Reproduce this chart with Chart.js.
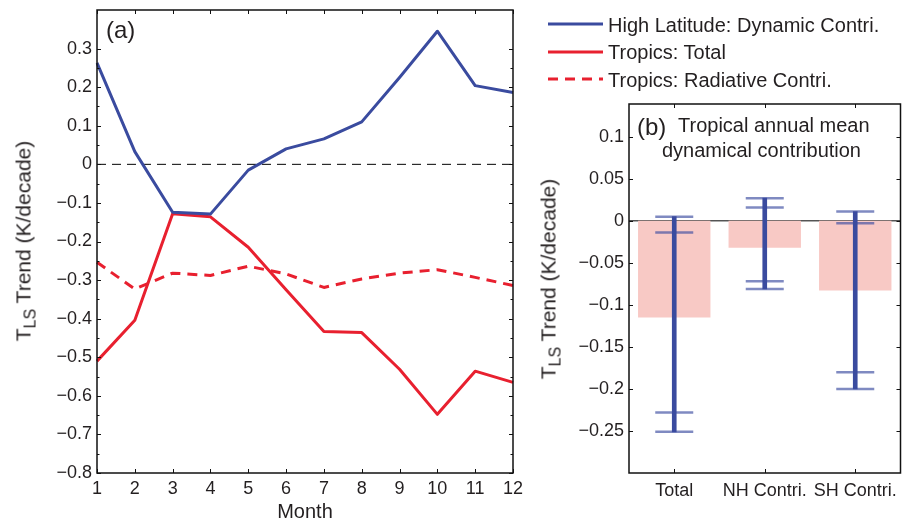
<!DOCTYPE html>
<html>
<head>
<meta charset="utf-8">
<script src="https://cdn.jsdelivr.net/npm/chart.js@4.4.0/dist/chart.umd.min.js"></script>
<style>
body { margin: 0; background: #fff; }
#wrap { position: relative; width: 922px; height: 525px; overflow: hidden;
        font-family: 'Liberation Sans', Arial, Helvetica, sans-serif; color: #231f20; }
canvas { position: absolute; top: 0; }
.txt { position: absolute; white-space: nowrap; line-height: 1; }
.ytitle { position: absolute; white-space: nowrap; font-size: 21px; line-height: 1;
          transform: translate(-50%, -50%) rotate(-90deg); }
.ytitle span { font-size: 16px; position: relative; top: 5px; }
</style>
</head>
<body>
<div id="wrap">
  <canvas id="chartA" width="530" height="525" style="left:0"></canvas>
  <canvas id="chartB" width="392" height="525" style="left:530px"></canvas>
  <div class="ytitle" style="left:23px;top:241px">T<span>LS</span> Trend (K/decade)</div>
  <div class="ytitle" style="left:548px;top:279px">T<span>LS</span> Trend (K/decade)</div>
  <div class="txt" style="left:106px;top:18px;font-size:24px">(a)</div>
  <div class="txt" style="left:637px;top:115px;font-size:24px">(b)</div>
  <div class="txt" style="left:678px;top:115px;font-size:20px">Tropical annual mean</div>
  <div class="txt" style="left:662px;top:140px;font-size:20px">dynamical contribution</div>
  <div id="legend"></div>
</div>
<script>
// panel (a): monthly trends
var months = ['1', '2', '3', '4', '5', '6', '7', '8', '9', '10', '11', '12'];
var highLatDynamic = [0.263, 0.033, -0.124, -0.129, -0.015, 0.040, 0.066, 0.110, 0.225, 0.345, 0.204, 0.186];
var tropicsTotal = [-0.510, -0.404, -0.128, -0.136, -0.215, -0.325, -0.433, -0.436, -0.531, -0.648, -0.536, -0.565];
var tropicsRadiative = [-0.254, -0.323, -0.282, -0.288, -0.264, -0.284, -0.319, -0.297, -0.282, -0.273, -0.293, -0.314];

// panel (b): tropical annual mean dynamical contribution
var contribLabels = ['Total', 'NH Contri.', 'SH Contri.'];
var contribMean = [-0.115, -0.032, -0.083];
var rangeHigh = [0.005, 0.027, 0.011];
var rangeLow = [-0.251, -0.081, -0.200];
var innerHigh = [-0.014, 0.016, -0.003];
var innerLow = [-0.228, -0.072, -0.180];

var BLUE = '#3a4b9f';
var RED = '#e8202f';
var PINK = '#f8c9c5';
var CAP = 'rgba(58,75,159,0.65)';

Chart.defaults.font.family = "'Liberation Sans', Arial, Helvetica, sans-serif";
Chart.defaults.color = '#231f20';

function fmt(v) {
    return String(Math.round(v * 100) / 100).replace('-', '\u2212');
}

// fixed axis sizes, no extra room for overhanging labels
function fixSize(w, h) {
    return function(s) {
        if (w) s.width = w;
        if (h) s.height = h;
        s.paddingTop = 0; s.paddingBottom = 0;
        s.paddingLeft = 0; s.paddingRight = 0;
    };
}

// box round the plot, inward ticks, zero line
var frame = {
    id: 'frame',
    beforeDatasetsDraw: function(chart, args, opts) {
        var ctx = chart.ctx, a = chart.chartArea;
        var py = chart.scales.y.getPixelForValue(0);
        ctx.save();
        ctx.strokeStyle = '#000';
        ctx.lineWidth = 1;
        ctx.setLineDash(opts.zeroDash || []);
        ctx.beginPath();
        ctx.moveTo(a.left, py);
        ctx.lineTo(a.right, py);
        ctx.stroke();
        ctx.restore();
    },
    afterDatasetsDraw: function(chart, args, opts) {
        var ctx = chart.ctx, a = chart.chartArea;
        var x = chart.scales.x, y = chart.scales.y;
        ctx.save();
        ctx.strokeStyle = '#111';
        ctx.lineWidth = 1;
        ctx.beginPath();
        y.ticks.forEach(function(t, i) {
            var p = Math.round(y.getPixelForValue(t.value)) + 0.5;
            ctx.moveTo(a.left, p); ctx.lineTo(a.left + 4, p);
            ctx.moveTo(a.right, p); ctx.lineTo(a.right - 4, p);
            if (opts.minor && i < y.ticks.length - 1) {
                var m = Math.round(y.getPixelForValue((t.value + y.ticks[i + 1].value) / 2)) + 0.5;
                ctx.moveTo(a.left, m); ctx.lineTo(a.left + 2.5, m);
                ctx.moveTo(a.right, m); ctx.lineTo(a.right - 2.5, m);
            }
        });
        x.ticks.forEach(function(t, i) {
            var p = Math.round(x.getPixelForTick(i)) + 0.5;
            ctx.moveTo(p, a.top); ctx.lineTo(p, a.top + 4);
            ctx.moveTo(p, a.bottom); ctx.lineTo(p, a.bottom - 4);
        });
        ctx.stroke();
        ctx.lineWidth = 1.5;
        ctx.strokeRect(a.left, a.top, a.right - a.left, a.bottom - a.top);
        ctx.restore();
    }
};

var chartA = new Chart(document.getElementById('chartA'), {
    type: 'line',
    data: {
        labels: months,
        datasets: [
            { label: 'High Latitude: Dynamic Contri.', data: highLatDynamic, borderColor: BLUE, borderWidth: 3 },
            { label: 'Tropics: Total', data: tropicsTotal, borderColor: RED, borderWidth: 3 },
            { label: 'Tropics: Radiative Contri.', data: tropicsRadiative, borderColor: RED, borderWidth: 3, borderDash: [10, 7] }
        ]
    },
    options: {
        responsive: false,
        animation: false,
        events: [],
        elements: { point: { radius: 0 }, line: { tension: 0, borderJoinStyle: 'round' } },
        layout: { padding: { left: 0, top: 10, right: 17, bottom: 0 } },
        plugins: {
            legend: { display: false },
            tooltip: { enabled: false },
            frame: { zeroDash: [9, 6], minor: true }
        },
        scales: {
            x: {
                grid: { display: false, drawTicks: false },
                border: { display: false },
                ticks: { padding: 5, font: { size: 18 }, maxRotation: 0, autoSkip: false },
                title: { display: true, text: 'Month', font: { size: 20 }, padding: { top: 0, bottom: 1 } },
                afterFit: fixSize(0, 52)
            },
            y: {
                min: -0.8,
                max: 0.4,
                grid: { display: false, drawTicks: false },
                border: { display: false },
                ticks: {
                    stepSize: 0.1, padding: 5, font: { size: 18 },
                    callback: function(v) { return v > 0.35 ? null : fmt(v); }
                },
                afterFit: fixSize(97, 0)
            }
        }
    },
    plugins: [frame]
});

var capStyle = {
    type: 'line', showLine: false, pointStyle: 'line', pointRadius: 19,
    pointBorderWidth: 2.5, pointBorderColor: CAP, borderColor: CAP
};

var chartB = new Chart(document.getElementById('chartB'), {
    type: 'bar',
    data: {
        labels: contribLabels,
        datasets: [
            Object.assign({ data: rangeHigh }, capStyle),
            Object.assign({ data: rangeLow }, capStyle),
            Object.assign({ data: innerHigh }, capStyle),
            Object.assign({ data: innerLow }, capStyle),
            {
                type: 'bar', grouped: false, barThickness: 4, backgroundColor: BLUE,
                data: contribLabels.map(function(c, i) { return [rangeLow[i], rangeHigh[i]]; })
            },
            {
                type: 'bar', grouped: false, barPercentage: 0.8, categoryPercentage: 1,
                backgroundColor: PINK, data: contribMean
            }
        ]
    },
    options: {
        responsive: false,
        animation: false,
        events: [],
        layout: { padding: { left: 0, top: 104, right: 3, bottom: 0 } },
        plugins: {
            legend: { display: false },
            tooltip: { enabled: false },
            frame: { zeroDash: [], minor: false }
        },
        scales: {
            x: {
                grid: { display: false, drawTicks: false },
                border: { display: false },
                ticks: { padding: 7, font: { size: 18 }, maxRotation: 0, autoSkip: false },
                afterFit: fixSize(0, 52)
            },
            y: {
                min: -0.3,
                max: 0.139,
                grid: { display: false, drawTicks: false },
                border: { display: false },
                ticks: {
                    stepSize: 0.05, includeBounds: false, padding: 5, font: { size: 18 },
                    callback: function(v) { return v < -0.29 ? null : fmt(v); }
                },
                afterFit: fixSize(99, 0)
            }
        }
    },
    plugins: [frame]
});

// legend above panel (b), built from panel (a) series
var legendEl = document.getElementById('legend');
chartA.data.datasets.forEach(function(ds, i) {
    var y = 24.3 + i * 27.4;
    var dash = ds.borderDash ? ' stroke-dasharray="' + ds.borderDash.join(' ') + '"' : '';
    legendEl.insertAdjacentHTML('beforeend',
        '<svg style="position:absolute;left:548px;top:' + (y - 3) + 'px" width="55" height="6">' +
        '<line x1="0" y1="3" x2="55" y2="3" stroke="' + ds.borderColor + '" stroke-width="3"' + dash + '/></svg>' +
        '<div class="txt" style="left:608px;top:' + (y - 9.6) + 'px;font-size:20px">' + ds.label + '</div>');
});
</script>
</body>
</html>
